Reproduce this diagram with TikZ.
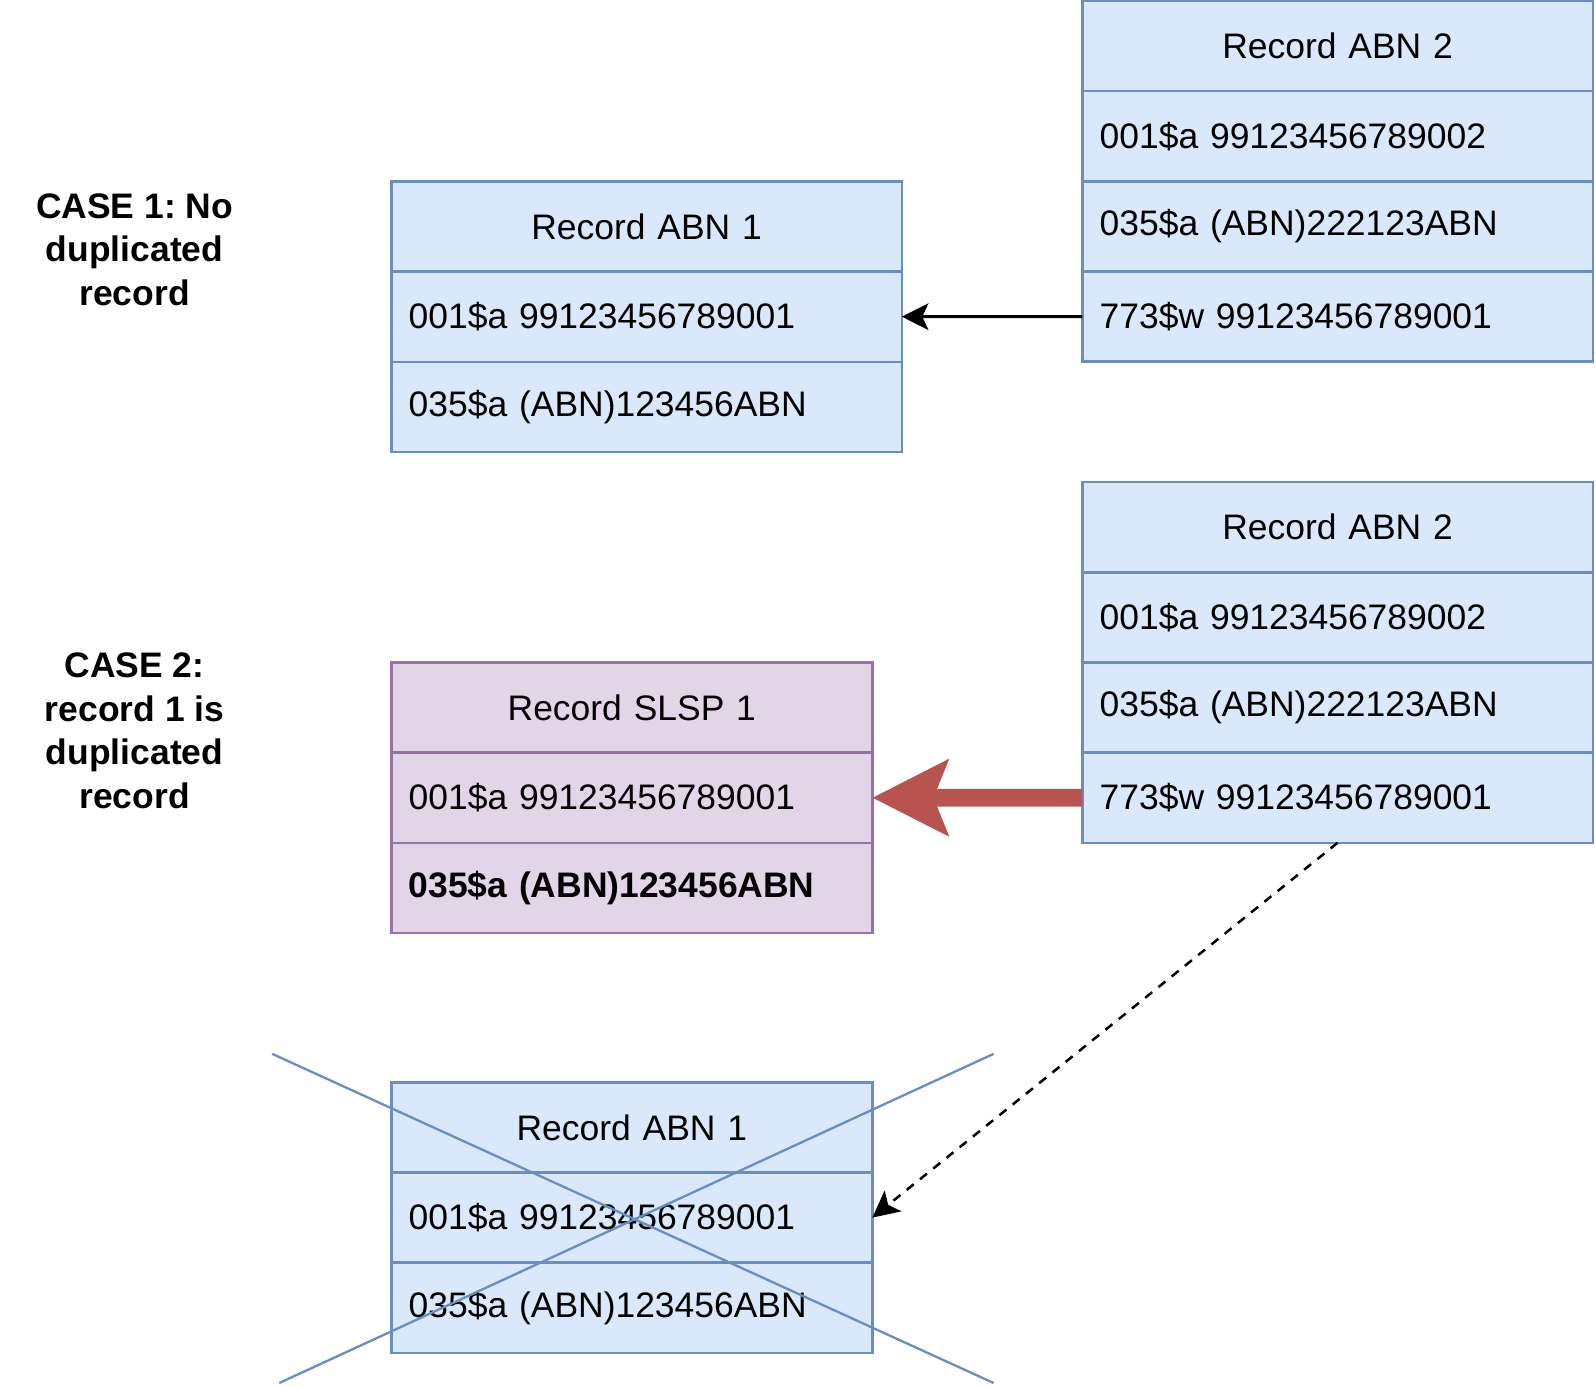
\documentclass[tikz,border=0pt]{standalone}
\usepackage{fontspec}
\setmainfont{Liberation Sans}
\frenchspacing
\usetikzlibrary{arrows.meta, positioning}
\definecolor{abnfill}{HTML}{DAE8FC}
\definecolor{abnline}{HTML}{6C8EBF}
\definecolor{slspfill}{HTML}{E1D5E7}
\definecolor{slspline}{HTML}{9673A6}
\definecolor{dupred}{HTML}{B85450}
\tikzstyle{box} = [draw=abnline, fill=abnfill, line width=1.4pt, outer sep=0pt,
   minimum height=1.77cm, inner xsep=0.34cm, font=\fontsize{19.8}{23}\selectfont]
\tikzstyle{hdr} = [box, align=center]
\tikzstyle{fld} = [box, align=left]
\tikzstyle{wide} = [text width=9.34cm]
\tikzstyle{narrow} = [text width=8.76cm]
\tikzstyle{slsp} = [draw=slspline, fill=slspfill]
\tikzstyle{caselabel} = [align=center, font=\bfseries\fontsize{19.8}{24.5}\selectfont]
\tikzstyle{link} = [line width=1.6pt, -{Stealth[length=0.52cm, width=0.52cm, inset=0.12cm]}]

\begin{document}
\begin{tikzpicture}[thick, x=0.02cm, y=-0.02cm]
  \useasboundingbox (0,0) rectangle (1566,1360);

  % case 1
  \node[caselabel] (case1) at (132,245) {CASE 1: No\\duplicated\\record};

  \node[hdr,wide,anchor=north west] (abn2h) at (1062,1) {Record ABN 2};
  \node[fld,wide,below=0pt of abn2h] (abn2a) {001\$a 99123456789002};
  \node[fld,wide,below=0pt of abn2a] (abn2b) {035\$a (ABN)222123ABN};
  \node[fld,wide,below=0pt of abn2b] (abn2c) {773\$w 99123456789001};

  \node[hdr,wide,anchor=north west] (abn1h) at (384,178) {Record ABN 1};
  \node[fld,wide,below=0pt of abn1h] (abn1a) {001\$a 99123456789001};
  \node[fld,wide,below=0pt of abn1a] (abn1b) {035\$a (ABN)123456ABN};

  \draw[link] (abn2c) -- (abn1a);

  % case 2
  \node[caselabel] (case2) at (132,717) {CASE 2:\\record 1 is\\duplicated\\record};

  \node[hdr,wide,anchor=north west] (dabn2h) at (1062,473) {Record ABN 2};
  \node[fld,wide,below=0pt of dabn2h] (dabn2a) {001\$a 99123456789002};
  \node[fld,wide,below=0pt of dabn2a] (dabn2b) {035\$a (ABN)222123ABN};
  \node[fld,wide,below=0pt of dabn2b] (dabn2c) {773\$w 99123456789001};

  \node[hdr,narrow,slsp,anchor=north west] (slsph) at (384,650) {Record SLSP 1};
  \node[fld,narrow,slsp,below=0pt of slsph] (slspa) {001\$a 99123456789001};
  \node[fld,narrow,slsp,below=0pt of slspa] (slspb) {\textbf{035\$a (ABN)123456ABN}};

  \node[hdr,narrow,anchor=north west] (xabn1h) at (384,1062) {Record ABN 1};
  \node[fld,narrow,below=0pt of xabn1h] (xabn1a) {001\$a 99123456789001};
  \node[fld,narrow,below=0pt of xabn1a] (xabn1b) {035\$a (ABN)123456ABN};

  % crossed out record
  \draw[abnline, line width=1.3pt] (267,1034) -- (975,1357);
  \draw[abnline, line width=1.3pt] (975,1034) -- (274,1357);

  \draw[dupred, line width=10pt,
    -{Stealth[length=1.48cm, width=1.47cm, inset=0.28cm]}] (dabn2c) -- (slspa);
  \draw[link, line width=1.4pt, dash pattern=on 5pt off 4.5pt]
    (dabn2c.south) -- (xabn1a.east);
\end{tikzpicture}
\end{document}
